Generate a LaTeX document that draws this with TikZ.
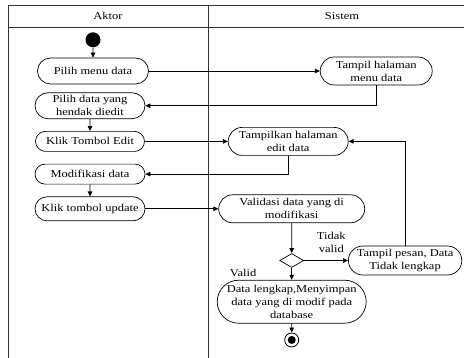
\documentclass[tikz,border=0pt]{standalone}
\usepackage{fontspec}
\setmainfont{Liberation Serif}[FakeStretch=1.19]
\usepackage{tikz}
\usetikzlibrary{shapes.geometric, shapes.misc, arrows.meta, positioning}

\begin{document}
\begin{tikzpicture}[
    x=1pt, y=-1pt,
    action/.style={rounded rectangle, draw, align=center, inner xsep=3pt, inner ysep=1pt, minimum width=116pt, minimum height=20pt}, % activity
    decision/.style={diamond, draw, minimum width=24pt, minimum height=14pt, inner sep=0pt},
    startnode/.style={circle, fill=black, minimum size=15pt, inner sep=0pt},
    endnode/.style={circle, draw, thick, minimum size=14pt, inner sep=0pt, path picture={\fill (path picture bounding box.center) circle (4pt);}},
    arrow/.style={-{Triangle[length=5pt, width=4.5pt]}},
    guard/.style={align=center, inner sep=1pt},
    lane/.style={draw=black!80, line width=0.8pt},
    every node/.append style={font=\fontsize{10.5}{13}\selectfont},
    line width=0.7pt
]
\useasboundingbox (0,0) rectangle (465,358);

% Swimlanes
\draw[lane] (8,358) -- (8,5) -- (464,5);
\draw[lane] (8,27) -- (464,27);
\draw[lane] (208,5) -- (208,358);
\node (aktor) at (108,16) {Aktor};
\node (sistem) at (342,16) {Sistem};

% Aktor lane
\node[action, minimum width=117pt, minimum height=26pt] (pilihmenu) at (93,71) {Pilih menu data};
\node[startnode, above=10pt of pilihmenu] (start) {};
\node[action, minimum height=26pt, below=8pt of pilihmenu, xshift=-3pt] (pilihdata) {Pilih data yang\\hendak diedit};
\node[action, minimum width=115pt, below=12pt of pilihdata] (klikedit) {Klik Tombol Edit};
\node[action, below=12pt of klikedit] (modif) {Modifikasi data};
\node[action, minimum height=24pt, below=12pt of modif] (klikupdate) {Klik tombol update};

% Sistem lane
\node[action, minimum width=118pt, minimum height=28pt, right=171pt of pilihmenu] (tampilmenu) {Tampil halaman\\menu data};
\node[action, minimum width=126pt, minimum height=28pt, right=83pt of klikedit] (tampiledit) {Tampilkan halaman\\edit data};
\node[action, minimum width=152pt, minimum height=28pt, right=73pt of klikupdate] (validasi) {Validasi data yang di\\modifikasi};
\node[decision, below=30pt of validasi] (cek) {};
\node[action, minimum width=112pt, minimum height=29pt, right=44pt of cek] (pesan) {Tampil pesan, Data\\Tidak lengkap};
\node[action, minimum width=155pt, minimum height=43pt, below=12pt of cek] (simpan) {Data lengkap,Menyimpan\\data yang di modif pada\\database};
\node[endnode, below=9pt of simpan] (end) {};

% Flow
\draw[arrow] (start) -- (pilihmenu);
\draw[arrow] (pilihmenu.east) -- (tampilmenu.west);
\draw[arrow] (tampilmenu.south) |- (pilihdata.east);
\draw[arrow] (pilihdata) -- (klikedit);
\draw[arrow] (klikedit.east) -- (tampiledit.west);
\draw[arrow] (tampiledit.south) |- (modif.east);
\draw[arrow] (modif) -- (klikupdate);
\draw[arrow] (klikupdate.east) -- (validasi.west);
\draw[arrow] (validasi) -- (cek);
\draw[arrow] (cek.east) -- node[guard, pos=0.62, above=7pt] {Tidak\\valid} (pesan.west);
\draw[arrow] (pesan.north) |- (tampiledit.east);
\draw[arrow] (cek.south) -- node[guard, pos=0.4, left=34pt] {Valid} (simpan.north);
\draw[arrow] (simpan) -- (end);

\end{tikzpicture}
\end{document}
